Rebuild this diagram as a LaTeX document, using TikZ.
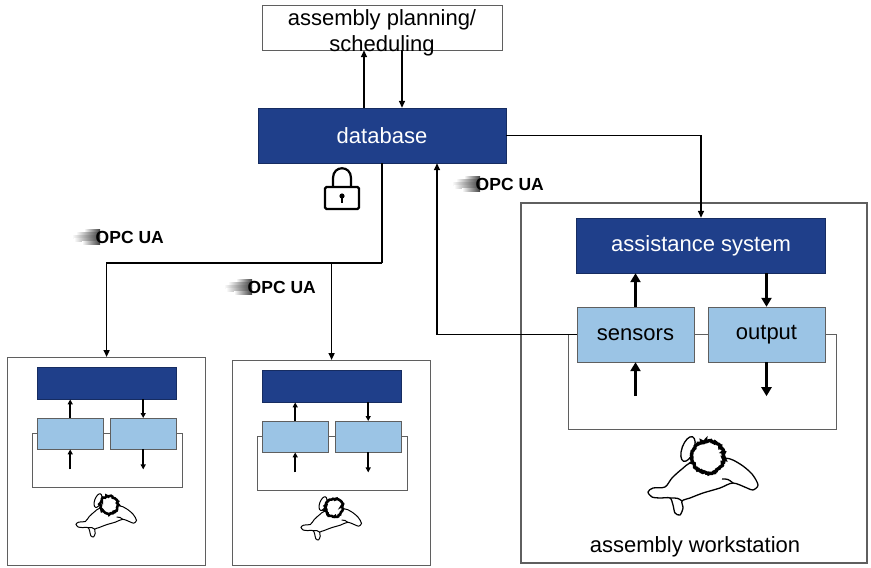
\documentclass[tikz,border=0pt]{standalone}
\usepackage{fontspec}
\setmainfont{Liberation Sans}
\usetikzlibrary{arrows.meta,calc,decorations.pathmorphing}

\definecolor{navy}{RGB}{31,63,138}
\definecolor{skyblue}{RGB}{155,196,229}
\definecolor{framegray}{RGB}{95,95,95}

\newcommand\boxfont{\fontsize{22}{26}\selectfont}

\tikzset{
	every node/.style={font=\boxfont},
	darkbox/.style={draw=navy!70!black, fill=navy, text=white, inner sep=0pt},
	lightbox/.style={draw=framegray, fill=skyblue, inner sep=0pt},
	stationbox/.style={draw=framegray, line width=1.2pt, inner sep=0pt},
	link/.style={line width=1.5pt, -{Triangle[length=7pt,width=6pt]}},
	bigarrow/.style={line width=3pt, -{Triangle[length=9pt,width=10pt]}},
	smallarrow/.style={line width=1.8pt, -{Triangle[length=5pt,width=5pt]}},
	loopline/.style={draw=framegray, line width=1pt},
	% worker seen from above, head at the origin
	worker/.pic={
		\draw[fill=white, rotate around={-20:(-20,-8)}] (-20,-8) ellipse (6 and 13);
		\draw[fill=white] plot[smooth cycle, tension=0.5] coordinates {(17,1) (32,7) (44,17) (50,28) (45,33) (39,31) (25,26) (12,31) (-5,36) (-18,41) (-26,44) (-25,51) (-28,58) (-33,56) (-35,48) (-38,41) (-48,41) (-56,40) (-60,35) (-55,31) (-43,30) (-36,21) (-26,12) (-15,5)};
		\draw (25,26) .. controls (20,22) .. (14,22);
		\draw (-26,44) .. controls (-30,41) .. (-38,41);
		\draw[fill=white, line width=1.6\pgflinewidth, decorate, decoration={random steps, segment length=1.2pt, amplitude=0.9pt}] (0,0) circle (16);
	},
	% protocol logo, right end at the origin
	opclogo/.pic={
		\foreach \dy/\len in {-6/16, -3/24, 0/28, 3/26, 6/18} {
			\shade[left color=white, right color=black!75] (-64,\dy-1.2) rectangle ++(-\len,2.4);
		}
		\node[anchor=east, inner sep=0pt, font=\bfseries\fontsize{17.5}{17.5}\selectfont] (-txt) at (0,0) {OPC UA};
	}
}

\begin{document}
\begin{tikzpicture}[x=1pt,y=-1pt]
	\useasboundingbox (0,0) rectangle (871,568);

	% planning and database
	\node[draw=framegray, minimum width=240pt, minimum height=45pt, inner sep=0pt] (plan) at (382,27.5) {};
	\node[align=center, inner sep=0pt] (plantext) at (382,33) {assembly planning/\\scheduling};
	\node[darkbox, minimum width=248pt, minimum height=55pt] (db) at (382,135.5) {database};
	\draw[link] ([xshift=-18pt]db.north) -- ([xshift=-18pt]plan.south);
	\draw[link] ([xshift=20pt]plan.south) -- ([xshift=20pt]db.north);

	% lock
	\draw[line width=2.2pt] (333,187) -- (333,178) .. controls (333,165) and (351,165) .. (351,178) -- (351,187);
	\draw[line width=2.2pt, fill=white, rounded corners=1.5pt] (325,187) rectangle (359,209);
	\fill (342,196) circle (2.6);
	\fill (340.8,196) rectangle (343.2,203);

	% logos
	\pic (opc1) at (164,237) {opclogo};
	\pic (opc2) at (316,287) {opclogo};
	\pic (opc3) at (544,184) {opclogo};

	% assembly workstation
	\node[stationbox, minimum width=346pt, minimum height=360pt] (ws) at (694,383) {};
	\node (wslabel) at (695,547) {assembly workstation};
	\node[darkbox, minimum width=249pt, minimum height=55pt] (asys) at (701,245.5) {assistance system};
	\node[lightbox, minimum width=117pt, minimum height=55pt] (sens) at (635.5,334.5) {sensors};
	\node[lightbox, minimum width=117pt, minimum height=55pt] (outp) at (766.5,334.5) {output};
	\draw[loopline] (sens.west) -- ++(-8,0) -- ++(0,94.5) -| ([xshift=11pt]outp.east) -- (outp.east);
	\draw[loopline] (sens.east) -- (outp.west);
	\draw[bigarrow] (sens.north) -- (sens.north |- asys.south);
	\draw[bigarrow] (asys.south -| outp.north) -- (outp.north);
	\draw[bigarrow] ($(sens.south)+(0,34)$) -- (sens.south);
	\draw[bigarrow] (outp.south) -- ++(0,34);
	\pic[line width=1.3pt] at (708,457) {worker};

	% two more workstations
	\foreach \s/\x/\y/\h in {st1/7/357/208, st2/232/360/205} {
		\node[stationbox, minimum width=198pt, minimum height=\h pt, anchor=north west] (\s) at (\x,\y) {};
		\node[darkbox, minimum width=139pt, minimum height=32pt, anchor=north west] (\s-ctrl) at ([shift={(30pt,-10pt)}]\s.north west) {};
		\node[lightbox, minimum width=66pt, minimum height=31pt, anchor=north west] (\s-in) at ([shift={(30pt,-61pt)}]\s.north west) {};
		\node[lightbox, minimum width=66pt, minimum height=31pt, anchor=north west] (\s-out) at ([shift={(103pt,-61pt)}]\s.north west) {};
		\draw[loopline] (\s-in.west) -- ++(-5,0) -- ++(0,54) -| ([xshift=6pt]\s-out.east) -- (\s-out.east);
		\draw[loopline] (\s-in.east) -- (\s-out.west);
		\draw[smallarrow] (\s-in.north) -- (\s-in.north |- \s-ctrl.south);
		\draw[smallarrow] (\s-ctrl.south -| \s-out.north) -- (\s-out.north);
		\draw[smallarrow] ($(\s-in.south)+(0,20)$) -- (\s-in.south);
		\draw[smallarrow] (\s-out.south) -- ++(0,20);
		\pic[scale=0.55, line width=1pt] at ([shift={(102pt,-148pt)}]\s.north west) {worker};
	}

	% connections
	\draw[link] (db.east) -| (asys.north);
	\draw[link] (sens.west) -| ([xshift=55pt]db.south);
	\coordinate (split) at ($(db.south)+(0,100)$);
	\draw[line width=1.5pt] (db.south) -- (split);
	\draw[link] (split) -| (st1.north);
	\draw[link] (split) -| (st2.north);
\end{tikzpicture}
\end{document}
